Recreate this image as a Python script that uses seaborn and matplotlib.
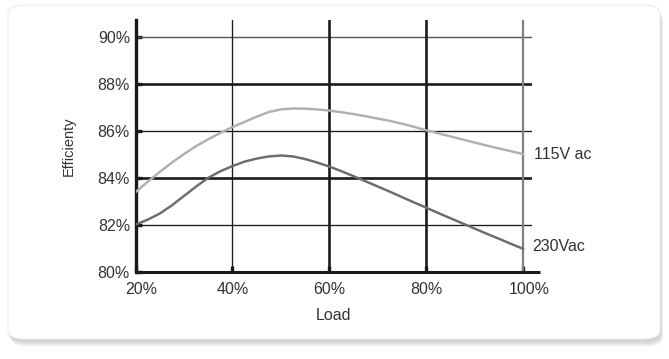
import matplotlib
matplotlib.use("Agg")
import matplotlib.pyplot as plt
import matplotlib.transforms as mtransforms
import seaborn as sns
import pandas as pd
from matplotlib.patches import FancyBboxPatch

load = [20, 22.5, 25, 27.5, 30, 32.5, 35, 37.5, 40, 42.5, 45, 47.5, 50, 52.5,
        55, 57.5, 60, 62.5, 65, 67.5, 70, 72.5, 75, 77.5, 80, 82.5, 85, 87.5,
        90, 92.5, 95, 97.5, 100]
eff_115 = [83.41, 83.85, 84.27, 84.67, 85.03, 85.37, 85.66, 85.93, 86.18,
           86.40, 86.62, 86.82, 86.93, 86.97, 86.96, 86.93, 86.88, 86.81,
           86.73, 86.64, 86.54, 86.44, 86.32, 86.19, 86.04, 85.91, 85.78,
           85.65, 85.52, 85.39, 85.27, 85.15, 85.03]
eff_230 = [82.03, 82.24, 82.50, 82.85, 83.25, 83.65, 84.02, 84.30, 84.52,
           84.71, 84.84, 84.93, 84.97, 84.93, 84.82, 84.67, 84.50, 84.30,
           84.09, 83.87, 83.65, 83.43, 83.20, 82.97, 82.75, 82.52, 82.30,
           82.08, 81.86, 81.64, 81.43, 81.21, 81.00]
series_names = ["115V ac", "230Vac"]
series_colors = ["#b0b0b0", "#6c6c6c"]
x_ticks = [20, 40, 60, 80, 100]
y_ticks = [80, 82, 84, 86, 88, 90]

sns.set_style("white")
plt.rcParams["font.family"] = ["Liberation Sans", "DejaVu Sans"]

df = pd.DataFrame({
    "Load": load * 2,
    "Efficiency": eff_115 + eff_230,
    "Series": [series_names[0]] * len(load) + [series_names[1]] * len(load),
})

W, H = 669, 359
fig = plt.figure(figsize=(W / 100, H / 100), dpi=100)
fig.patch.set_facecolor("white")

# card with soft shadow
for i, (dx, dy, c) in enumerate([(3, -7, "#ececec"), (2, -5, "#dedede"),
                                 (1, -3, "#d2d2d2")]):
    sh = FancyBboxPatch(((8 + dx) / W, (H - 339 + dy) / H), 652 / W, 334 / H,
                        boxstyle="round,pad=0,rounding_size=0.025",
                        transform=fig.transFigure, facecolor=c,
                        edgecolor="none", zorder=-4 + i * 0.1)
    fig.patches.append(sh)
card = FancyBboxPatch((8 / W, (H - 339) / H), 652 / W, 334 / H,
                      boxstyle="round,pad=0,rounding_size=0.025",
                      transform=fig.transFigure, facecolor="white",
                      edgecolor="#ececec", linewidth=0.8, zorder=-2)
fig.patches.append(card)

# axes geometry (pixels): x 20% at 135.5, 100% at 523.3; y 80% at 272.4
ppx = (523.3 - 135.5) / 80.0
ppy = 23.52
x0_px, x1_px = 135.5, 532.0
y0_px, y1_px = 272.4, 20.0
ax = fig.add_axes([x0_px / W, (H - y0_px) / H, (x1_px - x0_px) / W,
                   (y0_px - y1_px) / H])
ax.set_facecolor("none")
ax.set_xlim(20, 20 + (x1_px - x0_px) / ppx)
ax.set_ylim(80, 80 + (y0_px - y1_px) / ppy)

# gridlines
for yv in y_ticks[1:]:
    if yv in (84, 88):
        ax.axhline(yv, color="#1a1a1a", lw=1.9, zorder=1)
    elif yv == 90:
        ax.axhline(yv, color="#555555", lw=1.0, zorder=1)
    else:
        ax.axhline(yv, color="#1a1a1a", lw=0.95, zorder=1)
for xv in x_ticks[1:]:
    if xv in (60, 80):
        ax.axvline(xv, color="#1a1a1a", lw=1.9, zorder=1)
    elif xv == 100:
        ax.axvline(xv, color="#808080", lw=1.6, zorder=1)
    else:
        ax.axvline(xv, color="#1a1a1a", lw=0.95, zorder=1)

sns.lineplot(data=df, x="Load", y="Efficiency", hue="Series",
             palette=dict(zip(series_names, series_colors)),
             linewidth=1.75, ax=ax, legend=False, zorder=3)

for spine in ["top", "right", "bottom"]:
    ax.spines[spine].set_visible(False)
ax.spines["left"].set_linewidth(2.4)
ax.spines["left"].set_color("#1a1a1a")
ax.plot([20, 20 + (540 - x0_px) / ppx], [80, 80], color="#1a1a1a", lw=2.2,
        clip_on=False, zorder=4, solid_capstyle="butt")

ax.set_xticks(x_ticks)
ax.set_xticklabels([f"{v}%" for v in x_ticks])
ax.set_yticks(y_ticks)
ax.set_yticklabels([f"{v}%" for v in y_ticks])
ax.tick_params(axis="both", direction="in", length=4, width=2.4,
               color="#1a1a1a", labelsize=11.5, labelcolor="#333333")
ax.tick_params(axis="y", pad=4)
ax.tick_params(axis="x", pad=7)
ax.xaxis.set_ticks_position("bottom")
ax.yaxis.set_ticks_position("left")

# nudge first and last x labels to the right like the reference
labels = ax.get_xticklabels()
shift = mtransforms.ScaledTranslation(6 / 100, 0, fig.dpi_scale_trans)
for lab in (labels[0], labels[-1]):
    lab.set_transform(lab.get_transform() + shift)

ax.set_xlabel("Load", fontsize=11.5, color="#333333", labelpad=8)
ax.set_ylabel("Efficienty", fontsize=10.5, color="#333333", labelpad=16)

ax.text(102.3, eff_115[-1] - 0.02, series_names[0], fontsize=11.5,
        color="#333333", va="center", ha="left", clip_on=False)
ax.text(101.9, eff_230[-1] + 0.08, series_names[1], fontsize=11.5,
        color="#333333", va="center", ha="left", clip_on=False)

fig.savefig("out.png", dpi=100, facecolor="white")
